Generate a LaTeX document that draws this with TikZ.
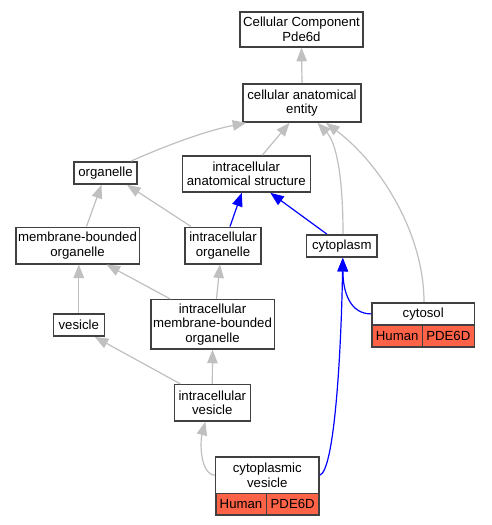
\documentclass[tikz,border=0pt]{standalone}
\usepackage{fontspec}
\setmainfont{Liberation Sans}
\usetikzlibrary{arrows.meta}
\definecolor{boxline}{HTML}{404040}
\definecolor{edgegray}{HTML}{C0C0C0}
\definecolor{cellred}{HTML}{FF6347}
\tikzset{
  term/.style={draw=boxline, line width=1.6pt, fill=white, inner sep=0pt, align=center,
    font=\fontsize{13.2}{14.5}\selectfont},
  cell/.style={term, fill=cellred},
  gedge/.style={draw=edgegray, line width=1.2pt, -{Triangle[length=13.5pt,width=10.5pt]}},
  bedge/.style={draw=blue, line width=1.2pt, -{Triangle[length=13.5pt,width=10.5pt]}},
}
\begin{document}
\begin{tikzpicture}[x=1pt,y=-1pt]
\useasboundingbox[fill=white] (0,0) rectangle (491,525);
% nodes
\node[term, minimum width=123pt, minimum height=35pt] (ccp) at (301.5,29.5) {Cellular Component\\Pde6d};
\node[term, minimum width=118pt, minimum height=38pt] (cae) at (302,103) {cellular anatomical\\entity};
\node[term, minimum width=63pt, minimum height=22pt] (org) at (105.5,173) {organelle};
\node[term, minimum width=128pt, minimum height=36pt] (ias) at (246.3,174) {intracellular\\anatomical structure};
\node[term, minimum width=123.6pt, minimum height=36.4pt] (mbo) at (77.5,245.5) {membrane-bounded\\organelle};
\node[term, minimum width=75.7pt, minimum height=36.4pt] (io) at (223,245.5) {intracellular\\organelle};
\node[term, minimum width=70.3pt, minimum height=22.3pt] (cyt) at (341.8,246) {cytoplasm};
\node[term, minimum width=51pt, minimum height=22.3pt] (ves) at (78.8,325) {vesicle};
\node[term, minimum width=123.6pt, minimum height=49.3pt] (imbo) at (212.5,324.3) {intracellular\\membrane-bounded\\organelle};
\node[term, minimum width=102.3pt, minimum height=22.3pt] (cytosol) at (423.2,313.9) {cytosol};
\node[cell, minimum width=50.3pt, minimum height=21.7pt] (cytosolh) at (397.2,335.9) {Human};
\node[cell, minimum width=52pt, minimum height=21.7pt] (cytosolg) at (448.3,335.9) {PDE6D};
\node[term, minimum width=76pt, minimum height=36.3pt] (iv) at (212.3,402.8) {intracellular\\vesicle};
\node[term, minimum width=103.3pt, minimum height=36.3pt] (cv) at (267.3,475.2) {cytoplasmic\\vesicle};
\node[cell, minimum width=50.6pt, minimum height=21.4pt] (cvh) at (241,504) {Human};
\node[cell, minimum width=52.7pt, minimum height=21.4pt] (cvg) at (292.7,504) {PDE6D};
% edges
\draw[gedge] (cae.north) -- (ccp.south);
\draw[gedge] ([xshift=-7pt]org.north east) .. controls (165,146) and (205,131) .. ([xshift=4pt]cae.south west);
\draw[gedge] ([xshift=16pt]ias.north) -- ([xshift=-12.5pt]cae.south);
\draw[gedge] ([xshift=1.2pt]cyt.north) .. controls (343,175) and (336,142) .. ([xshift=15.5pt]cae.south);
\draw[gedge] ([xshift=0.8pt]cytosol.north) .. controls (424,235) and (382,165) .. ([xshift=24pt]cae.south);
\draw[gedge] ([xshift=9pt]mbo.north) -- ([xshift=-4pt]org.south);
\draw[gedge] ([xshift=-32pt]io.north) -- ([xshift=21.5pt]org.south);
\draw[bedge] ([xshift=7pt]io.north) -- ([xshift=-4.5pt]ias.south);
\draw[bedge] ([xshift=-15pt]cyt.north) -- ([xshift=24pt]ias.south);
\draw[gedge] (ves.north) -- ([xshift=1.3pt]mbo.south);
\draw[gedge] ([xshift=-42.5pt]imbo.north) -- ([xshift=29pt]mbo.south);
\draw[gedge] ([xshift=4pt]imbo.north) -- ([xshift=-3pt]io.south);
\draw[gedge] ([xshift=-32pt]iv.north) -- ([xshift=16pt]ves.south);
\draw[gedge] (iv.north) -- (imbo.south);
\draw[gedge] (cv.west) .. controls (200,474) and (200,442) .. ([xshift=-7pt]iv.south);
\draw[bedge] (cytosol.west) .. controls (350,314) and (343,292) .. ([xshift=1pt]cyt.south);
\draw[bedge] (cv.east) .. controls (334,471) and (341,360) .. ([xshift=1pt]cyt.south);
\end{tikzpicture}
\end{document}
